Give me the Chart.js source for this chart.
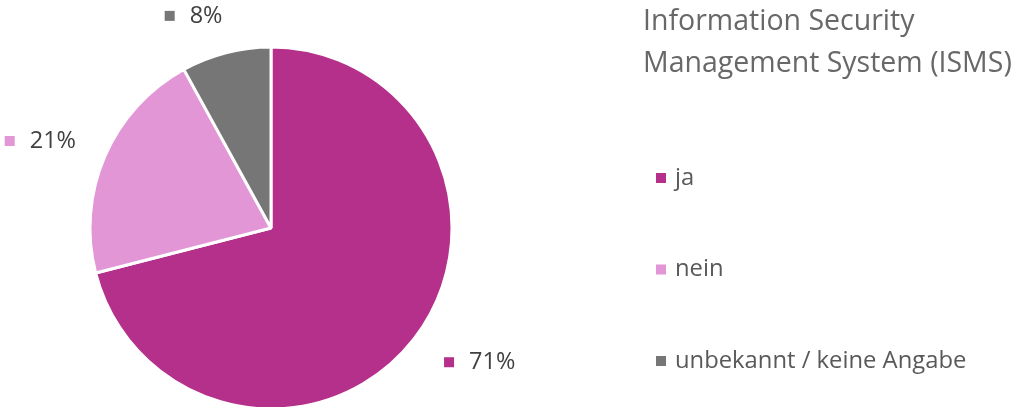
<!DOCTYPE html>
<html>
<head>
<meta charset="utf-8">
<script src="https://cdn.jsdelivr.net/npm/chart.js@4"></script>
<style>
  html, body { margin: 0; padding: 0; background: #fff; }
  #wrap { width: 1017px; height: 407px; }
</style>
</head>
<body>
<div id="wrap"><canvas id="pieChart"></canvas></div>
<script>
// Data
const categories = ['ja', 'nein', 'unbekannt / keine Angabe'];
const shares = [71, 21, 8];
const sliceColors = ['#B5308A', '#E396D6', '#767676'];
const titleLines = ['Information Security', 'Management System (ISMS)'];

const FONT = '"Open Sans", sans-serif';

// Percent labels outside the slices
const outsideLabels = {
    id: 'outsideLabels',
    afterDatasetsDraw(chart) {
        const ctx = chart.ctx;
        const meta = chart.getDatasetMeta(0);
        ctx.save();
        ctx.font = '23.5px ' + FONT;
        ctx.textBaseline = 'middle';
        meta.data.forEach((arc, i) => {
            const mid = (arc.startAngle + arc.endAngle) / 2;
            const r = arc.outerRadius + 38;
            const px = arc.x + Math.cos(mid) * r;
            const py = arc.y + Math.sin(mid) * r;
            const text = shares[i] + '%';
            const tw = ctx.measureText(text).width;
            const groupW = 10 + 17 + tw;
            let left = px < arc.x ? px + 8 - groupW : px;
            ctx.fillStyle = sliceColors[i];
            ctx.fillRect(left, py - 5, 10, 10);
            ctx.fillStyle = '#404040';
            ctx.textAlign = 'left';
            ctx.fillText(text, left + 25, py);
        });
        ctx.restore();
    }
};

// Title and legend on the right
const sideLegend = {
    id: 'sideLegend',
    afterDraw(chart) {
        const ctx = chart.ctx;
        ctx.save();
        ctx.textAlign = 'left';
        ctx.textBaseline = 'middle';
        ctx.font = '28.5px ' + FONT;
        ctx.fillStyle = '#686868';
        titleLines.forEach((line, i) => ctx.fillText(line, 643, 22 + i * 42));
        ctx.font = '23.8px ' + FONT;
        categories.forEach((cat, i) => {
            const y = 178 + i * 91.5;
            ctx.fillStyle = sliceColors[i];
            ctx.fillRect(656, y - 5, 10, 10);
            ctx.fillStyle = '#595959';
            ctx.fillText(cat, 675, y);
        });
        ctx.restore();
    }
};

new Chart(document.getElementById('pieChart'), {
    type: 'pie',
    data: {
        labels: categories,
        datasets: [{
            data: shares,
            backgroundColor: sliceColors,
            borderColor: '#ffffff',
            borderWidth: 3,
            radius: 181
        }]
    },
    options: {
        responsive: true,
        maintainAspectRatio: false,
        animation: false,
        layout: { padding: { left: 0, right: 475, top: 49, bottom: 0 } },
        plugins: {
            legend: { display: false },
            tooltip: { enabled: false }
        }
    },
    plugins: [outsideLabels, sideLegend]
});
</script>
</body>
</html>
